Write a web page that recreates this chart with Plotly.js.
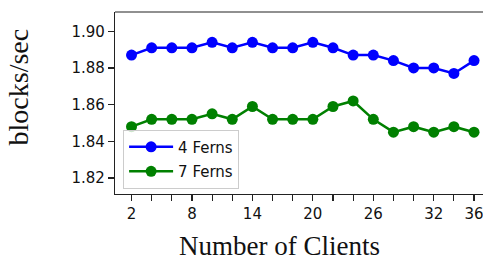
<!DOCTYPE html>
<html>
<head>
<meta charset="utf-8">
<script src="https://cdn.plot.ly/plotly-3.0.1.min.js"></script>
<style>html,body{margin:0;padding:0;overflow:hidden;background:#fff;}</style>
</head>
<body>
<div id="chart" style="width:483px;height:261px;"></div>
<script>
const clients = [2,4,6,8,10,12,14,16,18,20,22,24,26,28,30,32,34,36];
const ferns4 = [1.887,1.891,1.891,1.891,1.894,1.891,1.894,1.891,1.891,1.894,1.891,1.887,1.887,1.884,1.880,1.880,1.877,1.884];
const ferns7 = [1.848,1.852,1.852,1.852,1.855,1.852,1.859,1.852,1.852,1.852,1.859,1.862,1.852,1.845,1.848,1.845,1.848,1.845];
const xTickVals = [2,4,6,8,10,12,14,16,18,20,22,24,26,28,30,32,34,36];
const xTickText = ['2','','','8','','','14','','','20','','','26','','','32','','36'];
const yTickVals = [1.82,1.84,1.86,1.88,1.90];
const seriesNames = ['4 Ferns','7 Ferns'];
const xTitle = 'Number of Clients';
const yTitle = 'blocks/sec';

const serif = 'Liberation Serif, DejaVu Serif, serif';
const sans = 'DejaVu Sans, sans-serif';

const traces = [
  {x: clients, y: ferns4, name: seriesNames[0], type: 'scatter', mode: 'lines+markers',
   line: {color: '#0000ff', width: 2.5}, marker: {color: '#0000ff', size: 11}, legendgroup: 'a'},
  {x: clients, y: ferns7, name: seriesNames[1], type: 'scatter', mode: 'lines+markers',
   line: {color: '#008000', width: 2.5}, marker: {color: '#008000', size: 11}, legendgroup: 'b'}
];

const layout = {
  width: 483, height: 261,
  margin: {l: 115, r: 0, t: 12, b: 67, pad: 0},
  paper_bgcolor: '#fff', plot_bgcolor: '#fff',
  showlegend: true,
  legend: {x: 0.022, y: 0.03, xanchor: 'left', yanchor: 'bottom',
    bgcolor: 'rgba(255,255,255,0.8)', bordercolor: '#cccccc', borderwidth: 1,
    font: {family: sans, size: 15, color: '#111'}, traceorder: 'grouped', tracegroupgap: 2,
    itemwidth: 44},
  xaxis: {range: [0.36, 36.89], tickvals: xTickVals, ticktext: xTickText,
    ticks: 'outside', ticklen: 6, tickwidth: 1.2, tickcolor: '#222',
    ticklabeloverflow: 'allow',
    showline: true, linecolor: '#222', linewidth: 1.2, showgrid: false, zeroline: false,
    tickfont: {family: sans, size: 15, color: '#111'}},
  yaxis: {range: [1.8113, 1.9105], tickvals: yTickVals, tickformat: '.2f',
    ticks: 'outside', ticklen: 6, tickwidth: 1.2, tickcolor: '#222',
    showline: true, linecolor: '#222', linewidth: 1.2, showgrid: false, zeroline: false,
    tickfont: {family: sans, size: 15, color: '#111'}},
  shapes: [{type: 'line', xref: 'paper', yref: 'paper', x0: 0, x1: 1, y0: 1, y1: 1,
    line: {color: '#222', width: 1.2}}],
  annotations: [
    {text: xTitle, xref: 'paper', yref: 'paper', x: 0.4457, y: 0, yshift: -35,
     xanchor: 'center', yanchor: 'top', showarrow: false,
     font: {family: serif, size: 27, color: '#111'}},
    {text: yTitle, xref: 'paper', yref: 'paper', x: -0.2527, xshift: -4, y: 0.5856,
     xanchor: 'center', yanchor: 'middle', showarrow: false, textangle: -90,
     font: {family: serif, size: 28, color: '#111'}}
  ]
};

Plotly.newPlot('chart', traces, layout, {displayModeBar: false, staticPlot: true});
</script>
</body>
</html>
